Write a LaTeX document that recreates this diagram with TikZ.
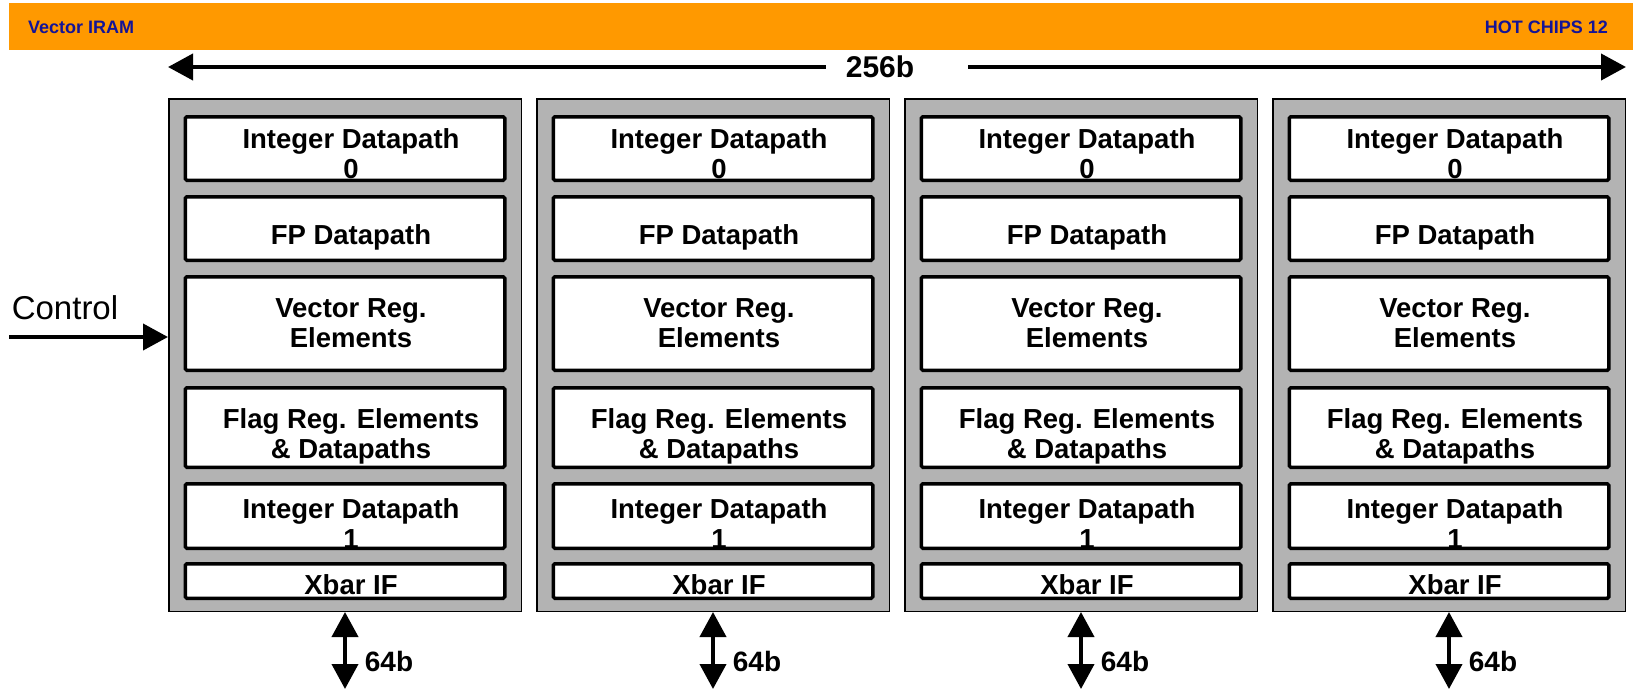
\documentclass[tikz,border=0pt]{standalone}
\usepackage{fontspec}
\setmainfont{Liberation Sans}
\usetikzlibrary{arrows.meta}
\definecolor{hdrorange}{RGB}{255,153,0}
\definecolor{hdrblue}{RGB}{20,20,150}
\definecolor{lanegray}{RGB}{179,179,179}

\begin{document}
\begin{tikzpicture}[x=1pt, y=-1pt]

    \tikzstyle{lane} = [draw, fill=lanegray, line width=1.5pt, minimum width=352.5, minimum height=512.5, inner sep=0];
    \tikzstyle{box} = [draw, fill=white, line width=3.5pt, rounded corners=1.5pt, minimum width=319.5, inner sep=0];
    \tikzstyle{bt} = [align=center, inner sep=0, xshift=6, font=\fontsize{27.5}{30}\selectfont\bfseries];
    \tikzstyle{hdr} = [text=hdrblue, inner sep=0, font=\fontsize{18}{20}\selectfont\bfseries];
    \tikzstyle{bw} = [inner sep=0, font=\fontsize{28}{30}\selectfont\bfseries];
    \tikzstyle{arrow} = [line width=4pt, -{Triangle[length=25pt, width=26pt]}];
    \tikzstyle{darrow} = [line width=4pt, {Triangle[length=25pt, width=26pt]}-{Triangle[length=25pt, width=26pt]}];

    \useasboundingbox (0,0) rectangle (1633,689);

    % Header
    \node[fill=hdrorange, minimum width=1624, minimum height=47, inner sep=0] (HB) at (821,26.5) {};
    \node[hdr, anchor=west] (HL) at (28,27) {Vector IRAM};
    \node[hdr, anchor=east] (HR) at (1608,27) {HOT CHIPS 12};

    % Lane A
    \node[lane] (LA) at (345,355) {};
    \node[box, minimum height=63.5, label={[bt, yshift=-5]center:{Integer Datapath\\0}}] (I0A) at (345,148.5) {};
    \node[box, minimum height=63.5, label={[bt, yshift=-9]center:{FP Datapath}}] (FPA) at (345,228.5) {};
    \node[box, minimum height=93.5, label={[bt]center:{Vector Reg.\\Elements}}] (VRA) at (345,323.5) {};
    \node[box, minimum height=79.5, label={[bt, yshift=-9]center:{Flag Reg. Elements\\\& Datapaths}}] (FRA) at (345,427.5) {};
    \node[box, minimum height=64.5, label={[bt, yshift=-8]center:{Integer Datapath\\1}}] (I1A) at (345,516) {};
    \node[box, minimum height=34.5, label={[bt, yshift=-4]center:{Xbar IF}}] (XBA) at (345,581) {};

    % Lane B
    \node[lane] (LB) at (713,355) {};
    \node[box, minimum height=63.5, label={[bt, yshift=-5]center:{Integer Datapath\\0}}] (I0B) at (713,148.5) {};
    \node[box, minimum height=63.5, label={[bt, yshift=-9]center:{FP Datapath}}] (FPB) at (713,228.5) {};
    \node[box, minimum height=93.5, label={[bt]center:{Vector Reg.\\Elements}}] (VRB) at (713,323.5) {};
    \node[box, minimum height=79.5, label={[bt, yshift=-9]center:{Flag Reg. Elements\\\& Datapaths}}] (FRB) at (713,427.5) {};
    \node[box, minimum height=64.5, label={[bt, yshift=-8]center:{Integer Datapath\\1}}] (I1B) at (713,516) {};
    \node[box, minimum height=34.5, label={[bt, yshift=-4]center:{Xbar IF}}] (XBB) at (713,581) {};

    % Lane C
    \node[lane] (LC) at (1081,355) {};
    \node[box, minimum height=63.5, label={[bt, yshift=-5]center:{Integer Datapath\\0}}] (I0C) at (1081,148.5) {};
    \node[box, minimum height=63.5, label={[bt, yshift=-9]center:{FP Datapath}}] (FPC) at (1081,228.5) {};
    \node[box, minimum height=93.5, label={[bt]center:{Vector Reg.\\Elements}}] (VRC) at (1081,323.5) {};
    \node[box, minimum height=79.5, label={[bt, yshift=-9]center:{Flag Reg. Elements\\\& Datapaths}}] (FRC) at (1081,427.5) {};
    \node[box, minimum height=64.5, label={[bt, yshift=-8]center:{Integer Datapath\\1}}] (I1C) at (1081,516) {};
    \node[box, minimum height=34.5, label={[bt, yshift=-4]center:{Xbar IF}}] (XBC) at (1081,581) {};

    % Lane D
    \node[lane] (LD) at (1449,355) {};
    \node[box, minimum height=63.5, label={[bt, yshift=-5]center:{Integer Datapath\\0}}] (I0D) at (1449,148.5) {};
    \node[box, minimum height=63.5, label={[bt, yshift=-9]center:{FP Datapath}}] (FPD) at (1449,228.5) {};
    \node[box, minimum height=93.5, label={[bt]center:{Vector Reg.\\Elements}}] (VRD) at (1449,323.5) {};
    \node[box, minimum height=79.5, label={[bt, yshift=-9]center:{Flag Reg. Elements\\\& Datapaths}}] (FRD) at (1449,427.5) {};
    \node[box, minimum height=64.5, label={[bt, yshift=-8]center:{Integer Datapath\\1}}] (I1D) at (1449,516) {};
    \node[box, minimum height=34.5, label={[bt, yshift=-4]center:{Xbar IF}}] (XBD) at (1449,581) {};

    % Width
    \node[inner sep=0, font=\fontsize{30}{32}\selectfont\bfseries] (W) at (880,67) {256b};
    \draw [arrow] ([xshift=-20]W.west) -- (W.west -| LA.west);
    \draw [arrow] ([xshift=54]W.east) -- (W.east -| LD.east);

    % Control
    \node[inner sep=0, font=\fontsize{33}{36}\selectfont] (CT) at (65,308) {Control};
    \coordinate (C0) at (9,337);
    \draw [arrow] (C0) -- (C0 -| LA.west);

    % Xbar ports
    \coordinate (BT) at (0,689);
    \draw [darrow] (LA.south) -- (LA.south |- BT);
    \draw [darrow] (LB.south) -- (LB.south |- BT);
    \draw [darrow] (LC.south) -- (LC.south |- BT);
    \draw [darrow] (LD.south) -- (LD.south |- BT);
    \node[bw] (SA) at (389,661) {64b};
    \node[bw] (SB) at (757,661) {64b};
    \node[bw] (SC) at (1125,661) {64b};
    \node[bw] (SD) at (1493,661) {64b};

\end{tikzpicture}
\end{document}
